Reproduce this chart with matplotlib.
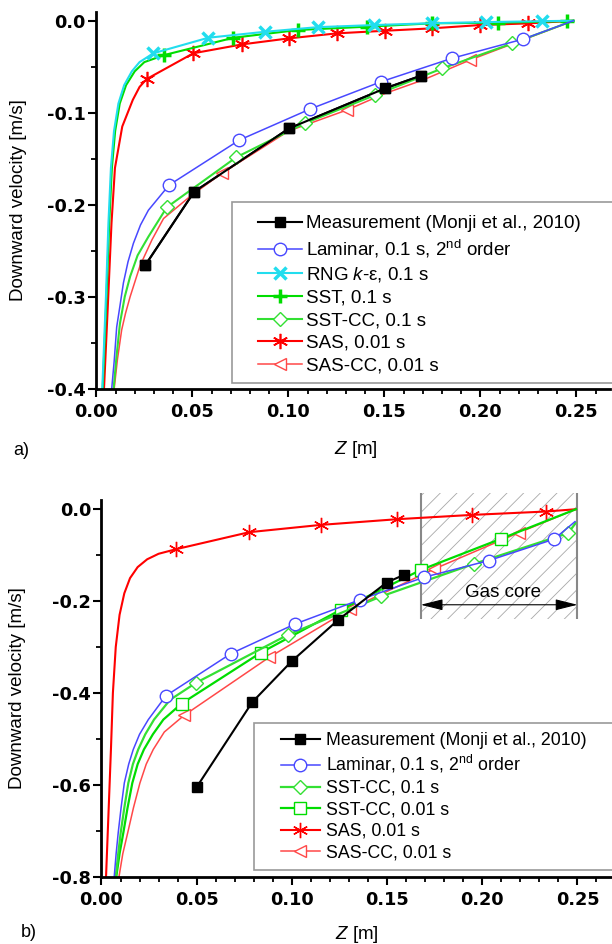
import matplotlib
matplotlib.use("Agg")
import matplotlib.pyplot as plt
from matplotlib.patches import Rectangle
from matplotlib.ticker import MultipleLocator, FormatStrFormatter

plt.rcParams['font.family'] = ['Liberation Sans', 'DejaVu Sans']
plt.rcParams['mathtext.fontset'] = 'custom'
plt.rcParams['mathtext.rm'] = 'Liberation Sans'
plt.rcParams['mathtext.it'] = 'Liberation Sans:italic'
plt.rcParams['axes.unicode_minus'] = False
plt.rcParams['hatch.linewidth'] = 0.6

# ---------------- panel a) data (Z [m], downward velocity [m/s]) ----------------
a_meas_z = [0.0254, 0.0509, 0.1004, 0.1504, 0.169]
a_meas_v = [-0.266, -0.186, -0.117, -0.0735, -0.0598]

a_lam_z = [0.0080, 0.0093, 0.0106, 0.0123, 0.0141, 0.0165, 0.0193, 0.0230, 0.0271,
           0.0379, 0.0745, 0.1113, 0.1483, 0.1851, 0.2224, 0.2484]
a_lam_v = [-0.400, -0.370, -0.333, -0.310, -0.285, -0.262, -0.242, -0.222, -0.206,
           -0.1786, -0.1297, -0.096, -0.0663, -0.0409, -0.0199, 0.0]
a_lam_mk = [9, 10, 11, 12, 13, 14]

a_rng_z = [0.0031, 0.0050, 0.0063, 0.0076, 0.0092, 0.0115, 0.0145, 0.0185, 0.0225,
           0.0297, 0.0583, 0.0879, 0.1152, 0.1448, 0.1747, 0.2030, 0.2320, 0.2484]
a_rng_v = [-0.400, -0.300, -0.220, -0.160, -0.120, -0.090, -0.070, -0.055, -0.045,
           -0.0354, -0.0185, -0.012, -0.0070, -0.0047, -0.0027, -0.0015, -0.0005, 0.0]
a_rng_mk = [9, 10, 11, 12, 13, 14, 15, 16]

a_sst_z = [0.0033, 0.0053, 0.0067, 0.0081, 0.0098, 0.0122, 0.0155, 0.0200, 0.0250,
           0.0354, 0.0714, 0.1050, 0.1410, 0.1750, 0.2094, 0.2450, 0.2484]
a_sst_v = [-0.400, -0.300, -0.220, -0.160, -0.120, -0.090, -0.070, -0.055, -0.045,
           -0.0373, -0.0185, -0.0101, -0.0065, -0.0028, -0.0022, -0.0005, 0.0]
a_sst_mk = [9, 10, 11, 12, 13, 14, 15]

a_sstcc_z = [0.0090, 0.0105, 0.0123, 0.0148, 0.0176, 0.0215, 0.0271,
             0.0367, 0.0728, 0.1085, 0.1452, 0.1802, 0.2167, 0.2484]
a_sstcc_v = [-0.400, -0.365, -0.329, -0.300, -0.278, -0.255, -0.2348,
             -0.2028, -0.1485, -0.1115, -0.0808, -0.0518, -0.0246, 0.0]
a_sstcc_mk = [7, 8, 9, 10, 11, 12]

a_sas_z = [0.0040, 0.0062, 0.0079, 0.0097, 0.0135, 0.0190, 0.0225,
           0.0262, 0.0505, 0.0760, 0.1002, 0.1255, 0.1504, 0.1747, 0.1999, 0.2250, 0.2484]
a_sas_v = [-0.400, -0.300, -0.220, -0.160, -0.115, -0.086, -0.072,
           -0.0634, -0.0354, -0.0257, -0.0192, -0.0137, -0.0109, -0.0083, -0.0047, -0.0029, 0.0]
a_sas_mk = [7, 8, 9, 10, 11, 12, 13, 14, 15]

a_sascc_z = [0.0093, 0.0110, 0.0132, 0.0152, 0.0176, 0.0228, 0.0290, 0.0350, 0.0488,
             0.0653, 0.0850, 0.1000, 0.1304, 0.1504, 0.1700, 0.1946, 0.2484]
a_sascc_v = [-0.400, -0.368, -0.336, -0.318, -0.300, -0.266, -0.238, -0.215, -0.191,
             -0.1659, -0.140, -0.120, -0.0971, -0.079, -0.0645, -0.0427, 0.0]
a_sascc_mk = [9, 12, 15]

# ---------------- panel b) data ----------------
b_meas_z = [0.050, 0.0792, 0.0999, 0.1244, 0.1498, 0.1589]
b_meas_v = [-0.605, -0.420, -0.331, -0.2407, -0.1596, -0.1428]

b_lam_z = [0.0067, 0.0077, 0.0088, 0.0103, 0.0120, 0.0143, 0.0167, 0.0200, 0.0246,
           0.0339, 0.0679, 0.1016, 0.1358, 0.1695, 0.2035, 0.2377, 0.2487]
b_lam_v = [-0.800, -0.750, -0.704, -0.650, -0.596, -0.555, -0.523, -0.490, -0.458,
           -0.406, -0.3146, -0.250, -0.197, -0.148, -0.1117, -0.0652, -0.027]
b_lam_mk = [9, 10, 11, 12, 13, 14, 15]

b_sstcc1_z = [0.0075, 0.0088, 0.0101, 0.0120, 0.0141, 0.0165, 0.0193, 0.0230, 0.0276,
              0.0360, 0.0496, 0.0981, 0.1468, 0.1956, 0.2452, 0.2490]
b_sstcc1_v = [-0.800, -0.750, -0.704, -0.650, -0.596, -0.555, -0.523, -0.490, -0.458,
              -0.415, -0.378, -0.273, -0.190, -0.119, -0.052, -0.030]
b_sstcc1_mk = [10, 11, 12, 13, 14]

b_sstcc2_z = [0.0078, 0.0095, 0.0115, 0.0137, 0.0162, 0.0190, 0.0223, 0.0270, 0.0325,
              0.0421, 0.0838, 0.1256, 0.1678, 0.2097, 0.2492]
b_sstcc2_v = [-0.800, -0.750, -0.704, -0.650, -0.596, -0.555, -0.523, -0.490, -0.458,
              -0.423, -0.312, -0.219, -0.132, -0.0646, 0.0]
b_sstcc2_mk = [9, 10, 11, 12, 13]

b_sas_z = [0.0024, 0.0038, 0.0050, 0.0060, 0.0075, 0.0095, 0.0120, 0.0150, 0.0190, 0.0240, 0.0300,
           0.0392, 0.0776, 0.1155, 0.1554, 0.1944, 0.2335, 0.2492]
b_sas_v = [-0.800, -0.650, -0.520, -0.400, -0.300, -0.230, -0.183, -0.150, -0.126, -0.109, -0.097,
           -0.087, -0.050, -0.034, -0.0217, -0.0124, -0.005, 0.0]
b_sas_mk = [11, 12, 13, 14, 15, 16]

b_sascc_z = [0.0092, 0.0112, 0.0138, 0.0168, 0.0202, 0.0235, 0.0272, 0.0330,
             0.0433, 0.0880, 0.1305, 0.1748, 0.2193, 0.2492]
b_sascc_v = [-0.800, -0.750, -0.704, -0.650, -0.596, -0.555, -0.523, -0.485,
             -0.449, -0.3226, -0.2174, -0.130, -0.0509, 0.0]
b_sascc_mk = [8, 9, 10, 11, 12]

gas_core_z = [0.1677, 0.2500]   # limits of the gas core region
gas_core_v = [-0.239, 0.035]
gas_arrow_v = -0.208

# colours
BLUE = '#4848ff'
CYAN = '#22ddee'
GREEN = '#00dd00'
GREEN2 = '#33e033'
RED = '#ff0000'
RED2 = '#ff4848'
ASTER = (6, 2, 0)  # asterisk marker

fig = plt.figure(figsize=(6.12, 9.44), dpi=100)
ax1 = fig.add_axes([0.1574, 0.5882, 0.8394, 0.3996])
ax2 = fig.add_axes([0.1658, 0.0713, 0.8322, 0.3990])


def curve(ax, z, v, color, lw, marker, ms, mew, mfc, label, marks=None):
    line, = ax.plot(z, v, color=color, lw=lw, marker=marker, markevery=marks, ms=ms,
                    mew=mew, mfc=mfc, mec=color, label=label)
    return line


def style_axes(ax, ymaj, ymin, ylim):
    ax.set_xlim(0, 0.2675)
    ax.set_ylim(*ylim)
    ax.spines['top'].set_visible(False)
    ax.spines['right'].set_visible(False)
    ax.spines['left'].set_linewidth(2)
    ax.spines['bottom'].set_linewidth(2)
    ax.xaxis.set_major_locator(MultipleLocator(0.05))
    ax.xaxis.set_minor_locator(MultipleLocator(0.01))
    ax.yaxis.set_major_locator(MultipleLocator(ymaj))
    ax.yaxis.set_minor_locator(MultipleLocator(ymin))
    ax.xaxis.set_major_formatter(FormatStrFormatter('%.2f'))
    ax.yaxis.set_major_formatter(FormatStrFormatter('%.1f'))
    ax.tick_params(which='major', direction='out', length=5.5, width=1.5)
    ax.tick_params(which='minor', direction='out', length=3.5, width=1.3)
    ax.tick_params(axis='x', which='major', pad=4.5)
    ax.tick_params(axis='y', which='major', pad=2)
    for t in ax.get_xticklabels() + ax.get_yticklabels():
        t.set_fontfamily('DejaVu Sans')
        t.set_fontweight('bold')
        t.set_fontsize(12.8)


lam_label = r'Laminar, 0.1 s, 2$^{\mathrm{nd}}$ order'

# panel a)
h_meas = curve(ax1, a_meas_z, a_meas_v, 'black', 1.5, 's', 7, 1, 'black', 'Measurement (Monji et al., 2010)')
h_sascc = curve(ax1, a_sascc_z, a_sascc_v, RED2, 1.1, '<', 9, 1.0, 'white', 'SAS-CC, 0.01 s', a_sascc_mk)
h_sas = curve(ax1, a_sas_z, a_sas_v, RED, 1.5, ASTER, 11, 1.2, RED, 'SAS, 0.01 s', a_sas_mk)
h_sstcc = curve(ax1, a_sstcc_z, a_sstcc_v, GREEN2, 1.5, 'D', 7.5, 1.0, 'white', 'SST-CC, 0.1 s', a_sstcc_mk)
h_sst = curve(ax1, a_sst_z, a_sst_v, GREEN, 1.5, '+', 10, 2.5, GREEN, 'SST, 0.1 s', a_sst_mk)
h_rng = curve(ax1, a_rng_z, a_rng_v, CYAN, 1.5, 'x', 9, 2.5, CYAN, 'RNG $k$-\u03b5, 0.1 s', a_rng_mk)
h_lam = curve(ax1, a_lam_z, a_lam_v, BLUE, 1.1, 'o', 9, 1.0, 'white', lam_label, a_lam_mk)
ax1.plot(a_meas_z, a_meas_v, color='black', lw=1.5, marker='s', ms=7)

style_axes(ax1, 0.1, 0.05, (-0.4, 0.01))
ax1.set_ylabel('Downward velocity [m/s]', fontsize=13.5)
ax1.yaxis.set_label_coords(-0.135, 0.5)
ax1.set_xlabel('$Z$ [m]', fontsize=13.5)
ax1.xaxis.set_label_coords(0.5056, -0.132)

ax1.add_patch(Rectangle((0.264, 0.0151), 0.76, 0.48, transform=ax1.transAxes, facecolor='white',
                        edgecolor='#999999', lw=1.2, clip_on=False, zorder=4.5))
ha = [h_meas, h_lam, h_rng, h_sst, h_sstcc, h_sas, h_sascc]
ax1.legend(ha, [h.get_label() for h in ha],
           loc='upper left', bbox_to_anchor=(0.2963, 0.485), borderaxespad=0, borderpad=0.5,
           frameon=False, fontsize=13.5, numpoints=1, handlelength=2.33, handletextpad=0.26,
           labelspacing=0.29)

# panel b)
ax2.add_patch(Rectangle((gas_core_z[0], gas_core_v[0]), gas_core_z[1] - gas_core_z[0],
                        gas_core_v[1] - gas_core_v[0], facecolor='none', edgecolor='#a8a8a8',
                        hatch='//', lw=0, clip_on=False, zorder=0.5))
ax2.vlines(gas_core_z, gas_core_v[0], gas_core_v[1], colors='#888888', lw=1.5, clip_on=False, zorder=0.6)
ax2.annotate('', xy=(gas_core_z[1], gas_arrow_v), xytext=(gas_core_z[0], gas_arrow_v),
             arrowprops=dict(arrowstyle='<|-|>,head_length=0.8,head_width=0.2', color='black',
                             lw=0.8, mutation_scale=17, shrinkA=0, shrinkB=0))
ax2.text(sum(gas_core_z) / 2 + 0.002, -0.181, 'Gas core', fontsize=13.5, ha='center', va='center')

g_sascc = curve(ax2, b_sascc_z, b_sascc_v, RED2, 1.1, '<', 9, 1.0, 'white', 'SAS-CC, 0.01 s', b_sascc_mk)
g_sas = curve(ax2, b_sas_z, b_sas_v, RED, 1.5, ASTER, 11, 1.0, RED, 'SAS, 0.01 s', b_sas_mk)
g_sstcc2 = curve(ax2, b_sstcc2_z, b_sstcc2_v, GREEN, 1.6, 's', 8, 1.0, 'white', 'SST-CC, 0.01 s', b_sstcc2_mk)
g_sstcc1 = curve(ax2, b_sstcc1_z, b_sstcc1_v, GREEN2, 1.6, 'D', 7.5, 1.0, 'white', 'SST-CC, 0.1 s', b_sstcc1_mk)
g_lam = curve(ax2, b_lam_z, b_lam_v, BLUE, 1.1, 'o', 9, 1.0, 'white', lam_label, b_lam_mk)
g_meas = curve(ax2, b_meas_z, b_meas_v, 'black', 1.5, 's', 7, 1, 'black', 'Measurement (Monji et al., 2010)')

style_axes(ax2, 0.2, 0.1, (-0.8, 0.02))
ax2.set_ylabel('Downward velocity [m/s]', fontsize=13.5)
ax2.yaxis.set_label_coords(-0.148, 0.5)
ax2.set_xlabel('$Z$ [m]', fontsize=13.5)
ax2.xaxis.set_label_coords(0.5017, -0.125)

ax2.add_patch(Rectangle((0.2994, 0.0178), 0.76, 0.391, transform=ax2.transAxes, facecolor='white',
                        edgecolor='#999999', lw=1.2, clip_on=False, zorder=4.5))
hb = [g_meas, g_lam, g_sstcc1, g_sstcc2, g_sas, g_sascc]
ax2.legend(hb, [h.get_label() for h in hb], loc='upper left', bbox_to_anchor=(0.335, 0.408),
           borderaxespad=0, borderpad=0.5, frameon=False, fontsize=12.8, numpoints=1,
           handlelength=2.19, handletextpad=0.34, labelspacing=0.25)

fig.text(0.021, 0.523, 'a)', fontsize=13, ha='left', va='center')
fig.text(0.034, 0.0127, 'b)', fontsize=13, ha='left', va='center')

fig.savefig('out.png', dpi=100)
